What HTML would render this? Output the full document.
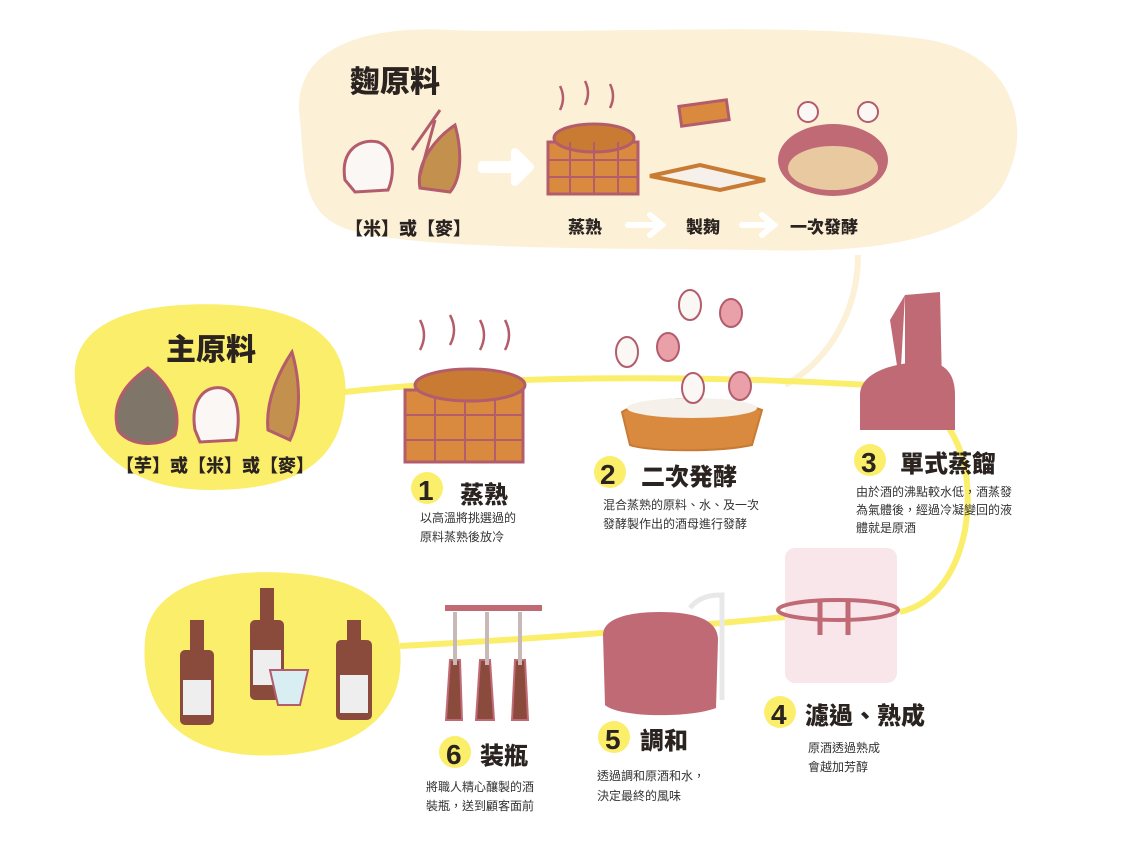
<!DOCTYPE html>
<html><head><meta charset="utf-8"><style>
html,body{margin:0;padding:0;background:#fff;}
svg{display:block}
text{font-family:"Liberation Sans","Noto Sans CJK TC",sans-serif;fill:#2a2320}
.h{font-weight:900}
.d{font-size:12px;fill:#333}
</style></head><body>
<svg width="1141" height="853" viewBox="0 0 1141 853" xmlns="http://www.w3.org/2000/svg">
<!-- cream blob -->
<path d="M300 120 C290 50 360 25 450 30 C600 35 800 20 930 40 C1010 55 1030 120 1010 170 C990 230 900 255 760 250 C600 248 420 250 350 230 C300 215 305 170 300 120Z" fill="#fcf0d7"/>
<!-- cream line -->
<path d="M858 255 C858 310 830 360 785 385" stroke="#fcf0d7" stroke-width="6" fill="none"/>
<!-- yellow blobs -->
<path d="M75 380 C70 320 140 300 230 305 C320 310 350 350 345 400 C340 460 300 490 210 490 C120 490 80 440 75 380Z" fill="#fbee6b"/>
<path d="M145 640 C150 580 230 565 310 575 C380 585 405 620 400 670 C395 730 330 760 250 755 C170 750 140 700 145 640Z" fill="#fbee6b"/>
<!-- yellow path -->
<path d="M345 392 C500 375 700 375 870 385 C960 395 975 470 965 530 C955 580 930 605 900 612" stroke="#fbee6b" stroke-width="6" fill="none"/>
<path d="M400 646 C520 640 650 630 785 617" stroke="#fbee6b" stroke-width="6" fill="none"/>

<!-- top section illustrations -->
<text x="350" y="92" font-size="30" class="h">麴原料</text>
<path d="M345 180 C340 150 360 138 378 142 C395 148 395 175 388 190 L355 192Z" fill="#fbf7f4" stroke="#b35c6b" stroke-width="3"/>
<path d="M420 188 C415 160 440 135 455 125 C462 150 462 178 450 192Z" fill="#c3914d" stroke="#b35c6b" stroke-width="3"/>
<path d="M412 150 L440 110 M420 175 L435 120" stroke="#b35c6b" stroke-width="3"/>
<text x="345" y="235" font-size="18" class="h">【米】或【麥】</text>
<path d="M482 165 L515 165 L515 152 L530 167 L515 182 L515 169 L482 169Z" fill="#fff" stroke="#fff" stroke-width="8" stroke-linejoin="round"/>
<!-- steamer top -->
<rect x="548" y="142" width="90" height="52" fill="#d98a3f" stroke="#b35c6b" stroke-width="3"/>
<ellipse cx="594" cy="138" rx="40" ry="14" fill="#c97a33" stroke="#b35c6b" stroke-width="3"/>
<path d="M548 160 H638 M548 177 H638 M570 142 V194 M594 142 V194 M618 142 V194" stroke="#b35c6b" stroke-width="2"/>
<path d="M560 110 q6 -12 0 -24 M585 105 q6 -12 0 -24 M610 108 q6 -12 0 -24" stroke="#b35c6b" stroke-width="2.5" fill="none"/>
<!-- koji -->
<rect x="680" y="103" width="48" height="20" fill="#d98a3f" stroke="#b35c6b" stroke-width="3" transform="rotate(-8 704 113)"/>
<path d="M650 176 L700 165 L765 180 L720 190Z" fill="#f5f0ea" stroke="#c97a33" stroke-width="4"/>
<!-- ferment tank -->
<ellipse cx="833" cy="160" rx="55" ry="36" fill="#c06a76"/>
<ellipse cx="833" cy="168" rx="45" ry="22" fill="#e8c9a0"/>
<circle cx="808" cy="112" r="10" fill="#fbf7f4" stroke="#b35c6b" stroke-width="2"/>
<circle cx="868" cy="112" r="10" fill="#fbf7f4" stroke="#b35c6b" stroke-width="2"/>
<text x="568" y="233" font-size="17" class="h">蒸熟</text>
<text x="686" y="233" font-size="17" class="h">製麹</text>
<text x="790" y="233" font-size="17" class="h">一次發酵</text>
<path d="M628 225 H660 M650 215 L662 225 L650 235" stroke="#fff" stroke-width="6" fill="none" stroke-linecap="round"/>
<path d="M742 225 H772 M762 215 L774 225 L762 235" stroke="#fff" stroke-width="6" fill="none" stroke-linecap="round"/>

<!-- main ingredient -->
<text x="166" y="360" font-size="30" class="h">主原料</text>
<path d="M118 430 C110 400 130 380 148 368 C170 385 182 410 175 435 C160 448 128 446 118 430Z" fill="#7f7568" stroke="#b35c6b" stroke-width="3"/>
<path d="M195 430 C190 400 205 385 222 388 C240 392 240 420 236 440 L200 442Z" fill="#fbf7f4" stroke="#b35c6b" stroke-width="3"/>
<path d="M268 430 C265 400 280 370 292 352 C300 380 302 415 290 440Z" fill="#c3914d" stroke="#b35c6b" stroke-width="3"/>
<text x="116" y="472" font-size="18" class="h">【芋】或【米】或【麥】</text>

<!-- step 1 steamer -->
<rect x="405" y="390" width="118" height="72" fill="#d98a3f" stroke="#b35c6b" stroke-width="3"/>
<path d="M405 415 H523 M405 440 H523 M435 390 V462 M465 390 V462 M495 390 V462" stroke="#b35c6b" stroke-width="2"/>
<ellipse cx="470" cy="385" rx="55" ry="16" fill="#c97a33" stroke="#b35c6b" stroke-width="3"/>
<path d="M420 350 q8 -15 0 -30 M450 345 q8 -15 0 -30 M480 350 q8 -15 0 -30 M505 350 q8 -15 0 -30" stroke="#b35c6b" stroke-width="2.5" fill="none"/>
<!-- step 2 -->
<path d="M622 412 C650 395 720 395 762 410 L752 445 C720 452 650 452 630 445Z" fill="#d98a3f" stroke="#c97a33" stroke-width="2"/>
<ellipse cx="692" cy="408" rx="65" ry="10" fill="#f5f0ea"/>
<g fill="#fbf7f4" stroke="#b35c6b" stroke-width="2">
<ellipse cx="627" cy="352" rx="11" ry="15"/><ellipse cx="668" cy="347" rx="11" ry="14" fill="#e9a0a8"/>
<ellipse cx="690" cy="305" rx="11" ry="15"/><ellipse cx="731" cy="313" rx="11" ry="14" fill="#e9a0a8"/>
<ellipse cx="693" cy="388" rx="11" ry="15"/><ellipse cx="740" cy="386" rx="11" ry="14" fill="#e9a0a8"/>
</g>
<!-- step 3 still -->
<path d="M905 295 L940 292 L942 385 L905 385Z" fill="#c06a76"/>
<path d="M905 295 L890 320 L900 385Z" fill="#c06a76"/>
<path d="M860 395 C860 370 900 362 925 362 C950 362 955 380 955 395 L955 430 L860 430Z" fill="#c06a76"/>
<!-- step 4 -->
<rect x="785" y="548" width="112" height="135" rx="10" fill="#f8e6ea"/>
<ellipse cx="838" cy="610" rx="60" ry="10" fill="none" stroke="#c06a76" stroke-width="4"/>
<path d="M820 600 V635 M848 600 V635" stroke="#c06a76" stroke-width="5"/>
<!-- step 5 tank -->
<path d="M603 635 C603 618 630 612 660 612 C700 612 718 622 718 640 L716 708 C690 718 620 718 605 705Z" fill="#c06a76"/>
<path d="M690 608 C700 595 715 595 722 595 V700" stroke="#e8e8e8" stroke-width="5" fill="none"/>
<!-- step 6 bottling -->
<rect x="445" y="605" width="97" height="6" fill="#c06a76"/>
<g fill="#8a4a3c" stroke="#c06a76" stroke-width="2">
<path d="M450 660 L460 660 L462 720 L446 720Z"/><path d="M480 660 L490 660 L494 720 L476 720Z"/><path d="M515 660 L525 660 L528 720 L512 720Z"/>
</g>
<path d="M455 612 V665 M487 612 V665 M520 612 V665" stroke="#c8b8b8" stroke-width="4"/>
<!-- bottles left -->
<g fill="#8a4a3c"><rect x="180" y="650" width="34" height="75" rx="5"/><rect x="190" y="620" width="14" height="35"/>
<rect x="250" y="620" width="34" height="80" rx="5"/><rect x="260" y="588" width="14" height="35"/>
<rect x="336" y="640" width="36" height="80" rx="5"/><rect x="347" y="620" width="14" height="25"/></g>
<g fill="#eee"><rect x="183" y="680" width="28" height="35"/><rect x="253" y="650" width="28" height="35"/><rect x="340" y="675" width="28" height="38"/></g>
<path d="M270 670 L308 670 L300 705 L278 705Z" fill="#d8eef2" stroke="#b35c6b" stroke-width="2"/>

<!-- labels -->
<g class="h">
<circle cx="427" cy="488" r="16" fill="#fbee6b"/><text x="418" y="500" font-size="28" class="h">1</text><text x="460" y="503" font-size="24" class="h">蒸熟</text>
<circle cx="610" cy="472" r="16" fill="#fbee6b"/><text x="600" y="484" font-size="28" class="h">2</text><text x="641" y="485" font-size="24" class="h">二次発酵</text>
<circle cx="870" cy="460" r="16" fill="#fbee6b"/><text x="861" y="472" font-size="28" class="h">3</text><text x="900" y="472" font-size="24" class="h">單式蒸餾</text>
<circle cx="780" cy="712" r="16" fill="#fbee6b"/><text x="771" y="724" font-size="28" class="h">4</text><text x="805" y="724" font-size="24" class="h">濾過、熟成</text>
<circle cx="614" cy="737" r="16" fill="#fbee6b"/><text x="605" y="749" font-size="28" class="h">5</text><text x="640" y="749" font-size="24" class="h">調和</text>
<circle cx="455" cy="752" r="16" fill="#fbee6b"/><text x="446" y="764" font-size="28" class="h">6</text><text x="480" y="764" font-size="24" class="h">装瓶</text>
</g>
<text class="d" x="420" y="522">以高溫將挑選過的</text><text class="d" x="420" y="541">原料蒸熟後放冷</text>
<text class="d" x="603" y="509">混合蒸熟的原料、水、及一次</text><text class="d" x="603" y="528">發酵製作出的酒母進行發酵</text>
<text class="d" x="856" y="496">由於酒的沸點較水低，酒蒸發</text><text class="d" x="856" y="514">為氣體後，經過冷凝變回的液</text><text class="d" x="856" y="532">體就是原酒</text>
<text class="d" x="808" y="752">原酒透過熟成</text><text class="d" x="808" y="771">會越加芳醇</text>
<text class="d" x="597" y="780">透過調和原酒和水，</text><text class="d" x="597" y="800">決定最終的風味</text>
<text class="d" x="426" y="791">將職人精心釀製的酒</text><text class="d" x="426" y="810">裝瓶，送到顧客面前</text>
</svg>
</body></html>
